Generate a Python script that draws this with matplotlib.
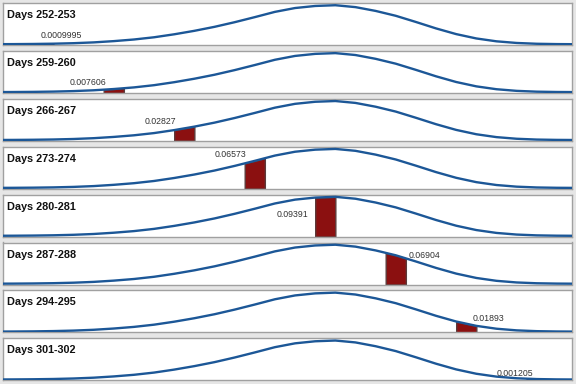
import numpy as np
import matplotlib
matplotlib.use("Agg")
import matplotlib.pyplot as plt

# ---- data ----
curve_days = [248, 250, 252, 254, 256, 258, 260, 262, 264, 266, 268, 270, 272, 274,
              276, 278, 280, 282, 284, 286, 288, 290, 292, 294, 296, 298, 300, 302,
              304, 306]
curve_vals = [0.00017, 0.000357, 0.000715, 0.00138, 0.00257, 0.00453, 0.00760,
              0.01153, 0.01692, 0.02414, 0.03255, 0.04221, 0.05344, 0.06573,
              0.0785, 0.0878, 0.0928, 0.0946, 0.0900, 0.0808, 0.0690, 0.0540,
              0.0384, 0.0246, 0.01406, 0.00711, 0.00315, 0.00119, 0.000415,
              0.000125]
bin_starts = [252, 259, 266, 273, 280, 287, 294, 301]
bin_labels = ["Days 252-253", "Days 259-260", "Days 266-267", "Days 273-274",
              "Days 280-281", "Days 287-288", "Days 294-295", "Days 301-302"]
bin_values = ["0.0009995", "0.007606", "0.02827", "0.06573",
              "0.09391", "0.06904", "0.01893", "0.001205"]

# ---- layout (label anchor positions in data units) ----
label_pos = [(254.8, 0.022), (257.4, 0.024), (264.6, 0.044), (271.6, 0.082),
             (277.7, 0.052), (290.9, 0.069), (297.2, 0.031), (299.8, 0.015)]

W, H = 576, 384
fig = plt.figure(figsize=(W / 100, H / 100), dpi=100)
fig.patch.set_facecolor("#e6e6e6")

cd = np.array(curve_days, dtype=float)
cv = np.array(curve_vals, dtype=float)

box_h = 42
for i in range(8):
    top = 3 + 47.9 * i
    ax = fig.add_axes([3 / W, 1 - (top + box_h) / H, 569 / W, box_h / H])
    ax.set_facecolor("white")
    ax.set_xlim(249, 305.5)
    ax.set_ylim(-0.0018, 0.1)
    for s in ax.spines.values():
        s.set_color("#a0a0a0")
        s.set_linewidth(1)
    ax.set_xticks([])
    ax.set_yticks([])

    d0 = bin_starts[i]
    xs = np.concatenate(([d0], cd[(cd > d0) & (cd < d0 + 2)], [d0 + 2]))
    ys = np.interp(xs, cd, cv)
    ax.fill_between(xs, -0.0018, ys, facecolor="#8b1010", edgecolor="#5c3a3a",
                    linewidth=1, zorder=2)
    ax.plot(cd, cv, color="#1c5797", linewidth=1.7, zorder=3,
            solid_joinstyle="round")

    ax.text(4 / 569, 1 - 12 / box_h, bin_labels[i], transform=ax.transAxes,
            ha="left", va="center", fontsize=7.8, fontweight="bold",
            family="Liberation Sans", color="#111111")
    lx, ly = label_pos[i]
    ax.text(lx, ly, bin_values[i], ha="center", va="center", fontsize=6.3,
            family="Liberation Sans", color="#333333", zorder=4)

fig.savefig("out.png", dpi=100, facecolor=fig.get_facecolor())
